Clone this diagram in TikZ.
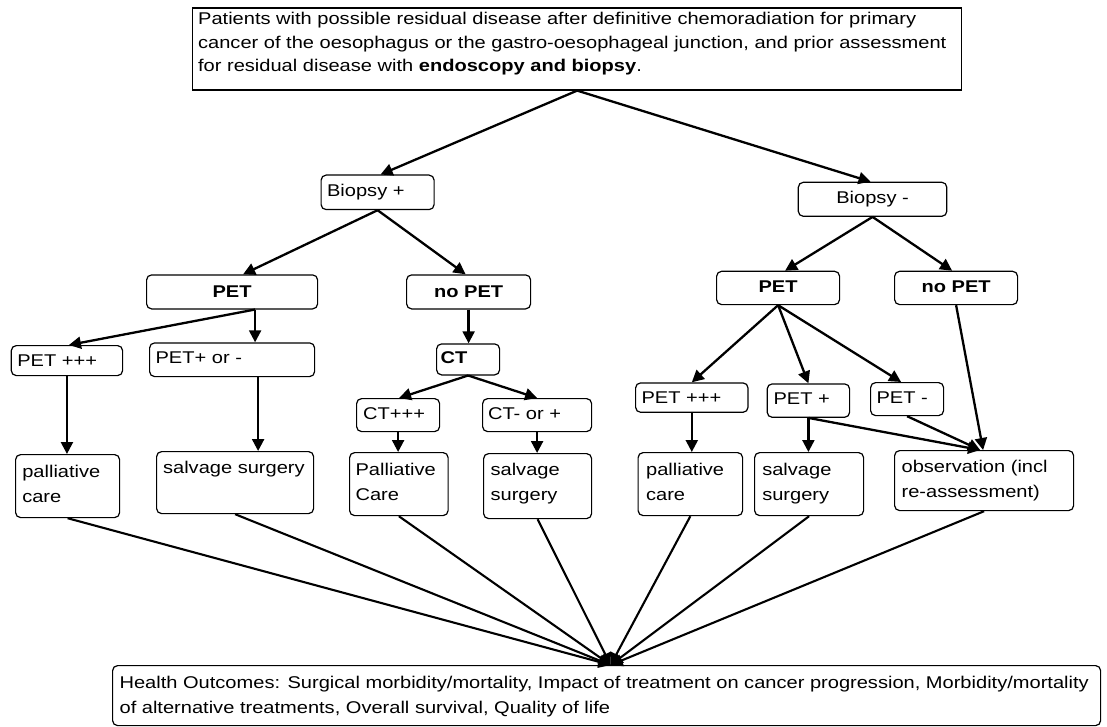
\documentclass[tikz,border=0pt]{standalone}
\usepackage{fontspec}
\setmainfont{Liberation Sans}[FakeStretch=1.18]
\usetikzlibrary{arrows.meta}
% box content: width, height, first-baseline, left inset, text
\newcommand{\bxl}[5]{\parbox[c][#2pt][t]{#1pt}{\leftskip=#4pt\rightskip=0pt plus 1fil\baselineskip=25pt\rule{0pt}{#3pt}#5}}
\newcommand{\bxc}[4]{\parbox[c][#2pt][t]{#1pt}{\centering\baselineskip=25pt\rule{0pt}{#3pt}#4}}
\tikzset{
  rbox/.style={draw, rounded corners=5pt, line width=1.2pt, inner sep=0pt, anchor=north west},
  sbox/.style={draw, line width=1.3pt, inner sep=0pt, anchor=north west},
  arr/.style={line width=2.3pt, -{Triangle[length=12pt,width=12pt]}},
  arrb/.style={line width=2.1pt, -{Triangle[length=12pt,width=12pt]}},
}
\begin{document}
\begin{tikzpicture}[x=1pt,y=-1pt, font=\fontsize{17}{25}\selectfont]
\useasboundingbox (0,0) rectangle (1107,727);
% top
\node[sbox] (top) at (192,7.3) {\parbox[c][82pt][t]{769pt}{\leftskip=5.5pt\rightskip=0pt plus 1fil\baselineskip=23.4pt\rule{0pt}{17pt}Patients with possible residual disease after definitive chemoradiation for primary\\cancer of the oesophagus or the gastro-oesophageal junction, and prior assessment\\for residual disease with \textbf{endoscopy and biopsy}.}};
% level 1
\node[rbox] (bp) at (320.5,174.5) {\bxl{113}{34.5}{21.3}{6}{Biopsy +}};
\node[rbox] (bm) at (797.7,181.7) {\bxc{148.5}{34}{21.5}{Biopsy -}};
% level 2
\node[rbox] (petL) at (146,274.3) {\bxc{171}{34}{23}{\textbf{PET}}};
\node[rbox] (nopetL) at (406,274.3) {\bxc{124}{34}{23}{\textbf{no PET}}};
\node[rbox] (petR) at (716,270.7) {\bxc{123}{33.3}{21}{\textbf{PET}}};
\node[rbox] (nopetR) at (894,270.7) {\bxc{123}{33.3}{21}{\textbf{no PET}}};
% level 3
\node[rbox] (ppL) at (10.7,345) {\bxl{111.3}{30}{21}{6}{PET +++}};
\node[rbox] (pomL) at (149,342.3) {\bxl{165}{33.7}{21}{6}{PET+ or -}};
\node[rbox] (ct) at (436,343.3) {\bxl{63}{31}{20}{4}{\textbf{CT}}};
\node[rbox] (ctp) at (356,398) {\bxl{83}{33}{21.3}{6.5}{CT+++}};
\node[rbox] (ctm) at (482,398) {\bxl{109}{33}{21}{5.5}{CT- or +}};
\node[rbox] (ppR) at (635,382.3) {\bxl{112.4}{29.4}{20.4}{6}{PET +++}};
\node[rbox] (pR) at (766.6,383.3) {\bxl{82.4}{33.4}{21}{6.4}{PET +}};
\node[rbox] (mR) at (870,382) {\bxl{73}{33}{20.7}{6}{PET -}};
% level 4
\node[rbox] (palL) at (15,454) {\bxl{104}{63}{22.7}{6.7}{palliative\\care}};
\node[rbox] (salL) at (156,451) {\bxl{157}{62}{22}{6.5}{salvage surgery}};
\node[rbox] (palM) at (349,452) {\bxl{98.5}{63}{23}{6}{Palliative\\Care}};
\node[rbox] (salM) at (483,453) {\bxl{108}{65}{22}{7}{salvage\\surgery}};
\node[rbox] (palR) at (637.5,452) {\bxl{104.5}{63}{23}{8}{palliative\\care}};
\node[rbox] (salR) at (754,452) {\bxl{109}{63}{23}{7.7}{salvage\\surgery}};
\node[rbox] (obs) at (894,450) {\bxl{179}{60}{21.7}{7}{observation (incl\\re-assessment)}};
% outcomes
\node[rbox] (hb) at (112,665) {\bxl{988}{60}{22.7}{7}{Health Outcomes: Surgical morbidity/mortality, Impact of treatment on cancer progression, Morbidity/mortality\\of alternative treatments, Overall survival, Quality of life}};
\coordinate (conv) at ([xshift=4pt]hb.north);
\coordinate (obsin) at ([xshift=-4pt]obs.north);
% connectors
\draw[arr] (top.south) -- ([xshift=3pt]bp.north);
\draw[arr] (top.south) -- ([xshift=-2pt]bm.north);
\draw[arr] (bp.south) -- ([xshift=11pt]petL.north);
\draw[arr] (bp.south) -- ([xshift=-3pt]nopetL.north);
\draw[arr] (bm.south) -- ([xshift=7pt]petR.north);
\draw[arr] (bm.south) -- ([xshift=-4pt]nopetR.north);
\draw[arr] ([xshift=23pt]petL.south) -- ([xshift=2pt]ppL.north);
\draw[arr] ([xshift=23pt]petL.south) -- ([xshift=23pt]petL.south |- pomL.north);
\draw[arr] (ppL.south) -- (ppL.south |- palL.north);
\draw[arr] ([xshift=26pt]pomL.south) -- ([xshift=26pt]pomL.south |- salL.north);
\draw[arr] (nopetL.south) -- (nopetL.south |- ct.north);
\draw[arr] (ct.south) -- ([xshift=1pt]ctp.north);
\draw[arr] (ct.south) -- (ctm.north);
\draw[arr] (ctp.south) -- (ctp.south |- palM.north);
\draw[arr] (ctm.south) -- (ctm.south |- salM.north);
\draw[arr] (petR.south) -- (ppR.north);
\draw[arr] (petR.south) -- (pR.north);
\draw[arr] (petR.south) -- ([xshift=-6pt]mR.north);
\draw[arr] (ppR.south) -- (ppR.south |- palR.north);
\draw[arr] (pR.south) -- (pR.south |- salR.north);
\draw[arr] (pR.south) -- (obsin);
\draw[arr] (mR.south) -- (obsin);
\draw[arr] (nopetR.south) -- ([xshift=-1pt]obs.north);
\foreach \n in {palL,salL,palM,salM,palR,salR,obs}
  \draw[arrb] (\n.south) -- (conv);
\end{tikzpicture}
\end{document}
